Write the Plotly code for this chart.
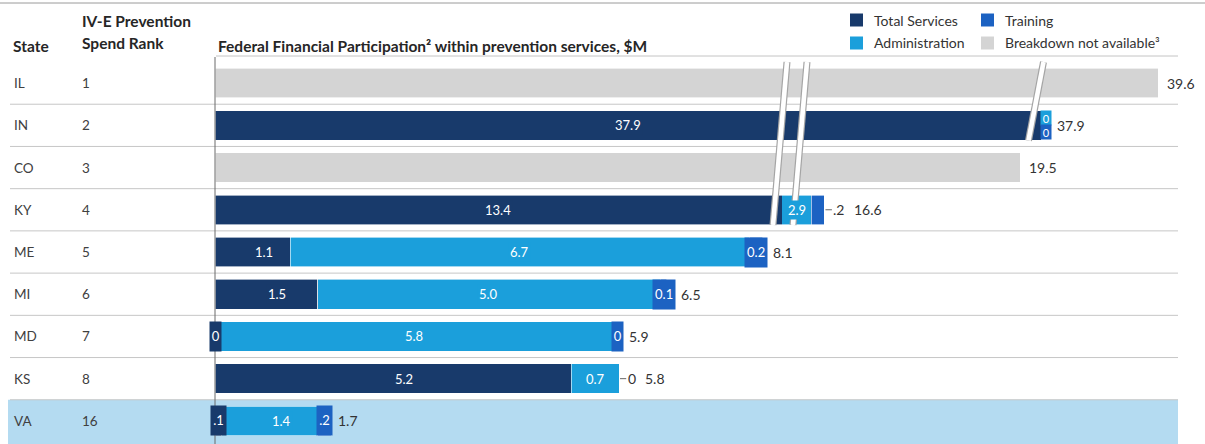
import plotly.graph_objects as go

# ---------------------------------------------------------------- data
states = ["IL", "IN", "CO", "KY", "ME", "MI", "MD", "KS", "VA"]
ranks = ["1", "2", "3", "4", "5", "6", "7", "8", "16"]

total_services = [None, 37.9, None, 13.4, 1.1, 1.5, 0.0, 5.2, 0.1]
administration = [None, 0.0, None, 2.9, 6.7, 5.0, 5.8, 0.7, 1.4]
training = [None, 0.0, None, 0.2, 0.2, 0.1, 0.0, 0.0, 0.2]
not_available = [39.6, None, 19.5, None, None, None, None, None, None]
totals = [39.6, 37.9, 19.5, 16.6, 8.1, 6.5, 5.9, 5.8, 1.7]

total_labels = ["", "37.9", "", "13.4", "1.1", "1.5", "0", "5.2", ".1"]
admin_labels = ["", "0", "", "2.9", "6.7", "5.0", "5.8", "0.7", "1.4"]
training_labels = ["", "0", "", ".2", "0.2", "0.1", "0", "0", ".2"]
total_text = ["39.6", "37.9", "19.5", "16.6", "8.1", "6.5", "5.9", "5.8", "1.7"]

legend_items = [("Total Services", "total"), ("Training", "training"),
                ("Administration", "admin"), ("Breakdown not available³", "na")]

# ---------------------------------------------------------------- style
W, H = 1205, 444
M_TOP, M_BOT = 62, 2
PLOT_H = H - M_TOP - M_BOT
ROW_H = PLOT_H / len(states)
FONT = "Lato, 'Open Sans', sans-serif"

COLORS = {"total": "#183a6b", "training": "#1c62c2",
          "admin": "#1b9fdb", "na": "#d4d4d4"}
C_HILITE = "#b4dbf1"
C_TEXT = "#333333"

# broken value axis: three windows, each (pixel domain, value range)
windows = [
    ((215, 782), (0.0, 8.28)),
    ((782, 1040), (15.85, 19.80)),
    ((1040, 1180), (37.88, 39.92)),
]

# small segments labelled outside the bar with a leader line
leader_labels = {("KY", "training"), ("KS", "training")}


def val_to_px(v):
    """Map a value onto the broken axis (pixels from the left edge)."""
    for i, ((d0, d1), (r0, r1)) in enumerate(windows):
        if v <= r1:
            if v < r0:
                return windows[i - 1][0][1]
            return d0 + (v - r0) / (r1 - r0) * (d1 - d0)
    return windows[-1][0][1]


def px_x(px):
    return px / W


def py(ypx):
    return (H - M_BOT - ypx) / PLOT_H


def row_px(pos):
    return M_TOP + (pos + 0.5) * ROW_H


def text_w(s, size):
    return sum((0.57 if ch.isdigit() else 0.27) * size for ch in s)


fig = go.Figure()

series = [
    ("Total Services", total_services, COLORS["total"]),
    ("Administration", administration, COLORS["admin"]),
    ("Training", training, COLORS["training"]),
    ("Breakdown not available³", not_available, COLORS["na"]),
]

axis_names = ["x", "x2", "x3"]
for k, ax in enumerate(axis_names):
    for name, vals, color in series:
        fig.add_trace(go.Bar(
            y=states, x=vals, orientation="h", name=name,
            marker=dict(color=color, line=dict(color="white", width=0.6)),
            xaxis=ax, yaxis="y", width=0.7, showlegend=False,
            hoverinfo="skip",
        ))

layout_axes = {}
for k, ((d0, d1), (r0, r1)) in enumerate(windows):
    key = "xaxis" if k == 0 else f"xaxis{k + 1}"
    layout_axes[key] = dict(
        domain=[px_x(d0), px_x(d1)], range=[r0, r1], anchor="y",
        showgrid=False, zeroline=False, showline=False,
        showticklabels=False, ticks="", fixedrange=True,
    )

annotations = []
shapes = []

# highlighted row background
shapes.append(dict(
    type="rect", xref="paper", yref="paper", layer="below",
    x0=px_x(8), x1=px_x(1178), y0=py(H), y1=py(row_px(7.5)),
    fillcolor=C_HILITE, line=dict(width=0),
))

# row separators
for i in range(len(states) - 1):
    shapes.append(dict(
        type="line", xref="paper", yref="y", layer="below",
        x0=px_x(10), x1=px_x(1178), y0=i + 0.5, y1=i + 0.5,
        line=dict(color="#c6c6c6", width=1),
    ))

# header rules
shapes.append(dict(type="line", xref="paper", yref="paper",
                   x0=0, x1=1, y0=py(3), y1=py(3),
                   line=dict(color="#9a9a9a", width=1)))
shapes.append(dict(type="line", xref="paper", yref="paper",
                   x0=px_x(216), x1=px_x(1178), y0=py(56), y1=py(56),
                   line=dict(color="#c4c4c4", width=1)))

# value axis baseline
shapes.append(dict(type="line", xref="paper", yref="paper", layer="above",
                   x0=px_x(215), x1=px_x(215), y0=py(H), y1=py(57),
                   line=dict(color="#6a6a6a", width=1)))


# axis-break marks
def add_break(x_center, last_row, lean=14):
    ytop = row_px(-0.5)
    ybot = row_px(last_row + 0.36)
    half = (ybot - ytop) / 2
    slope = lean / (ybot - ytop)
    xt = x_center + slope * half
    xb = x_center - slope * half
    for color, width in (("#a5a5a5", 7), ("white", 4.6)):
        shapes.append(dict(type="line", xref="paper", yref="paper", layer="above",
                           x0=px_x(xb), x1=px_x(xt), y0=py(ybot), y1=py(ytop),
                           line=dict(color=color, width=width)))


crossing1 = max(i for i, t in enumerate(totals) if t > windows[0][1][1])
crossing2 = max(i for i, t in enumerate(totals) if t > windows[1][1][1])
b1 = windows[0][0][1]
b2 = windows[1][0][1]
add_break(b1 - 2, crossing1)
add_break(b1 + 18, crossing1)
add_break(b2 - 4, crossing2, lean=15)

# legend (two rows of two)
for n, (label, key) in enumerate(legend_items):
    col, row = n % 2, n // 2
    lx = 850 + col * 131
    ly = 20 + row * 23
    shapes.append(dict(type="rect", xref="paper", yref="paper",
                       x0=px_x(lx), x1=px_x(lx + 13), y0=py(ly + 6.5), y1=py(ly - 6.5),
                       fillcolor=COLORS[key], line=dict(width=0)))
    annotations.append(dict(x=px_x(lx + 22), y=py(ly), xref="paper", yref="paper",
                            text=label, showarrow=False, xanchor="left",
                            yanchor="middle", font=dict(size=14, color=C_TEXT)))

# state and rank columns
for s, r in zip(states, ranks):
    for xpos, txt in ((12, s), (80, r)):
        annotations.append(dict(x=px_x(xpos), y=s, xref="paper", yref="y", text=txt,
                                showarrow=False, xanchor="left", yanchor="middle",
                                font=dict(size=13.5, color="#404040")))

# column headers
hdr = dict(xref="paper", yref="paper", showarrow=False, xanchor="left",
           yanchor="middle", font=dict(size=15.5, color="#262626"))
annotations.append(dict(hdr, x=px_x(11), y=py(46), text="<b>State</b>"))
annotations.append(dict(hdr, x=px_x(80), y=py(21), text="<b>IV-E Prevention</b>"))
annotations.append(dict(hdr, x=px_x(80), y=py(43), text="<b>Spend Rank</b>"))
annotations.append(dict(hdr, x=px_x(216), y=py(46),
                        text="<b>Federal Financial Participation² within prevention services, $M</b>"))

# segment labels and totals
seg_specs = [
    ("total", total_services, total_labels),
    ("admin", administration, admin_labels),
    ("training", training, training_labels),
]
BAR_PX = 0.7 * ROW_H - 1
F_IN = 13
F_VAL = 14

for i, s in enumerate(states):
    if not_available[i] is not None:
        end_px = val_to_px(not_available[i])
        annotations.append(dict(x=px_x(end_px + 7), y=s, xref="paper", yref="y",
                                text=total_text[i], showarrow=False, xanchor="left",
                                font=dict(size=F_VAL, color=C_TEXT)))
        continue

    cum = 0.0
    right_edge = 0.0
    zero_end = []
    for key, vals, labels in seg_specs:
        v = vals[i]
        if v is None:
            continue
        color = COLORS[key]
        start, end = cum, cum + v
        cum = end
        p0, p1 = val_to_px(start), val_to_px(end)
        txt = labels[i]
        tw = text_w(txt, F_IN)
        if (s, key) in leader_labels:
            off = 9 + tw / 2
            annotations.append(dict(
                x=px_x(p1), y=s, xref="paper", yref="y", text=txt,
                showarrow=True, arrowhead=0, arrowwidth=1, arrowcolor="#666",
                ax=off, ay=0, standoff=1, font=dict(size=F_VAL, color=C_TEXT)))
            right_edge = max(right_edge, p1 + off + tw / 2 + 4)
        elif p1 - p0 >= tw + 8:
            annotations.append(dict(
                x=px_x((p0 + p1) / 2), y=s, xref="paper", yref="y", text=txt,
                showarrow=False, bgcolor=color, borderpad=1,
                font=dict(size=F_IN, color="white")))
            right_edge = max(right_edge, p1)
        elif v == 0 and start > 0:
            zero_end.append((p0, txt, color))
        else:
            bw = tw + 4
            cx = (p0 + p1) / 2
            annotations.append(dict(
                x=px_x(cx), y=s, xref="paper", yref="y", text=txt,
                showarrow=False, xanchor="center", width=bw, height=BAR_PX,
                bgcolor=color, borderpad=0, valign="middle",
                font=dict(size=F_IN, color="white")))
            right_edge = max(right_edge, cx + bw / 2, p1)

    n = len(zero_end)
    for j, (p0, txt, color) in enumerate(zero_end):
        fs = F_IN if n == 1 else 11
        bh = BAR_PX / n
        bw = text_w(txt, fs) + 4
        annotations.append(dict(
            x=px_x(p0 - 1), y=s, xref="paper", yref="y", text=txt,
            showarrow=False, xanchor="left", width=bw, height=bh,
            yshift=(n - 1) / 2 * bh - j * bh,
            bgcolor=color, borderpad=0, valign="middle",
            font=dict(size=fs, color="white")))
        right_edge = max(right_edge, p0 - 1 + bw)

    right_edge = max(right_edge, val_to_px(cum))
    annotations.append(dict(x=px_x(right_edge + 4), y=s, xref="paper", yref="y",
                            text=total_text[i], showarrow=False, xanchor="left",
                            font=dict(size=F_VAL, color=C_TEXT)))

fig.update_layout(
    width=W, height=H,
    margin=dict(l=0, r=0, t=M_TOP, b=M_BOT, autoexpand=False),
    paper_bgcolor="white", plot_bgcolor="rgba(0,0,0,0)",
    barmode="stack", showlegend=False,
    font=dict(family=FONT, size=12, color=C_TEXT),
    yaxis=dict(domain=[0, 1], anchor="x", categoryorder="array",
               categoryarray=states, range=[len(states) - 0.5, -0.5],
               showgrid=False, zeroline=False, showline=False,
               showticklabels=False, ticks="", fixedrange=True),
    shapes=shapes,
    annotations=annotations,
    **layout_axes,
)

fig.write_html("out.html")
